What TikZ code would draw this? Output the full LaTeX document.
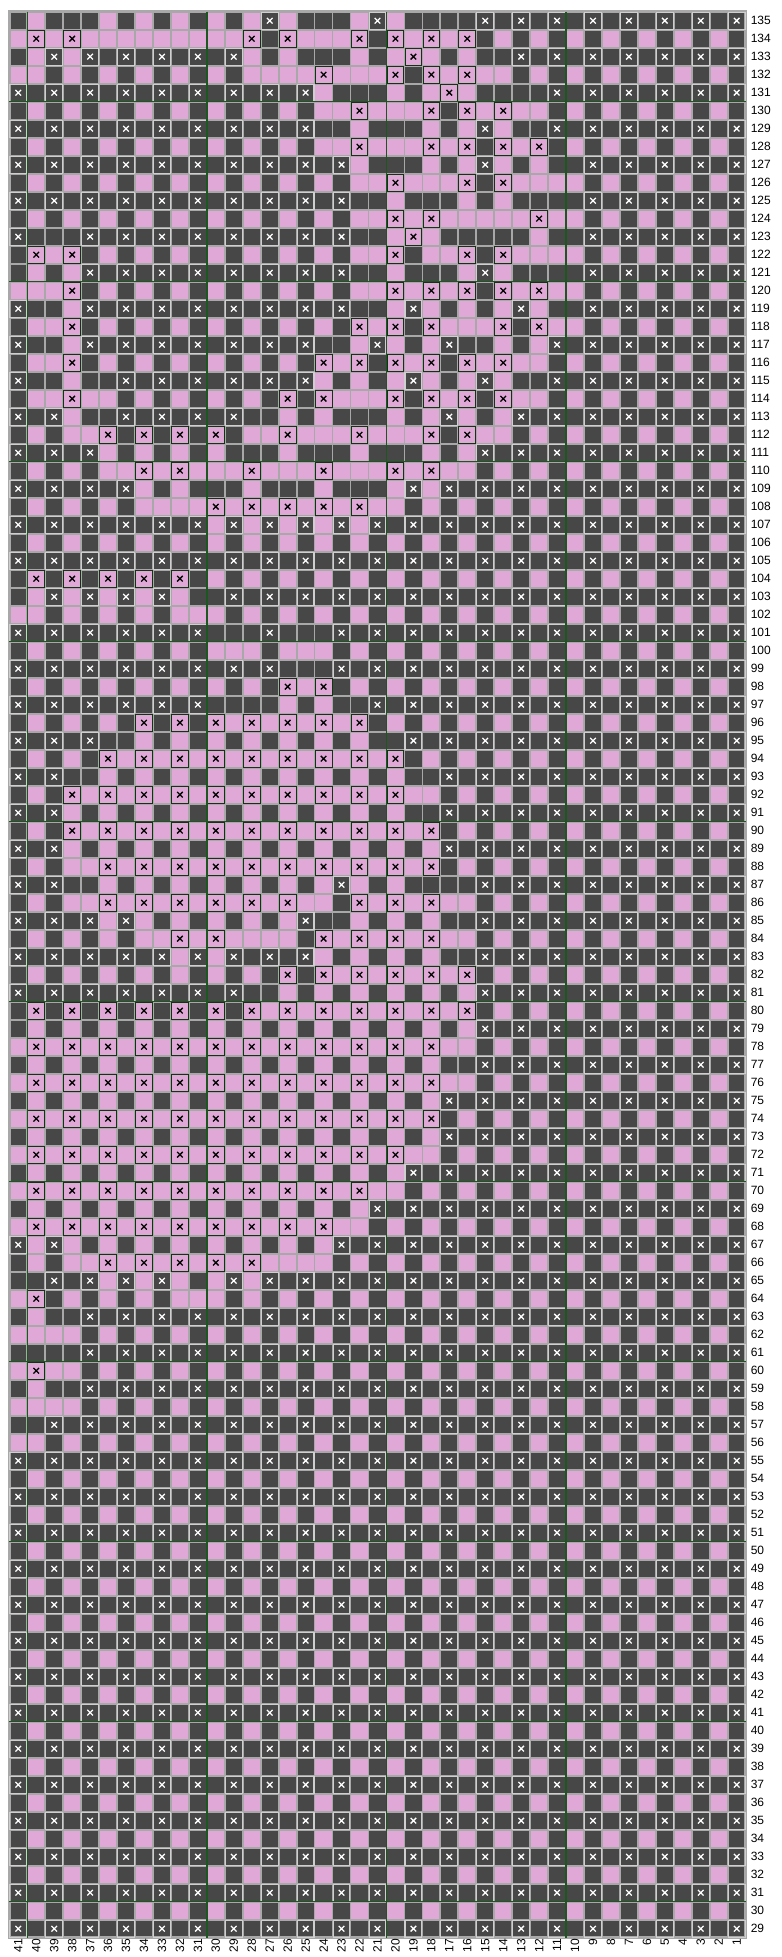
\documentclass[tikz,border=0pt]{standalone}
\usepackage{fontspec}
\setmainfont{Liberation Sans}
\definecolor{yarnpink}{HTML}{DFA8D6}
\definecolor{yarndark}{HTML}{474747}
\definecolor{gridgray}{HTML}{A8A8A8}
\definecolor{guidegreen}{HTML}{1D5720}
\tikzset{
  pinkcell/.style={fill=yarnpink},
  darkcell/.style={fill=yarndark},
  pinkmark/.style={draw=black, line width=0.95pt},
  darkmark/.style={draw=white, line width=0.95pt},
  pinkrim/.style={draw=guidegreen!60!black, line width=0.7pt},
  darkrim/.style={draw=gridgray!55!white, line width=0.8pt},
  gridline/.style={draw=gridgray, line width=1.3pt},
  frameline/.style={draw=gridgray, line width=2pt},
  guideline/.style={draw=guidegreen, line width=1pt},
  rowlabel/.style={anchor=west, inner sep=0pt, font=\fontsize{9}{10}\selectfont},
  collabel/.style={anchor=east, rotate=90, inner sep=0pt, font=\fontsize{9}{10}\selectfont},
}
\newcommand\cellw{17.96}
\newcommand\cellh{18}
\newcommand\gridx{9.3}
\newcommand\gridy{11.7}
\newcommand\oddbg{x dxdxdxdxdx dxdxdxdxdx dxdxdxdxdx dxdxdxdxdx}
\newcommand\evenbg{d pdpdpdpdpd pdpdpdpdpd pdpdpdpdpd pdpdpdpdpd}

\newcommand\cellspot{%
  \pgfmathsetmacro\cellx{\gridx+(41-\colno)*\cellw}%
  \pgfmathsetmacro\celly{\gridy+(135-\rowno)*\cellh}}

\newcommand\fillcell[1]{%
  \if#1p\cellspot\fill[pinkcell] (\cellx,\celly) rectangle ++(\cellw,\cellh);\fi
  \if#1X\cellspot\fill[pinkcell] (\cellx,\celly) rectangle ++(\cellw,\cellh);\fi}

\newcommand\stitchmark[2]{%
  \cellspot
  \pgfmathsetmacro\markx{\cellx+\cellw/2}%
  \pgfmathsetmacro\marky{\celly+\cellh/2}%
  \draw[#2] (\cellx+0.6,\celly+0.6) rectangle (\cellx+\cellw-0.6,\celly+\cellh-0.6);
  \draw[#1] (\markx-2.8,\marky-2.8) -- (\markx+2.8,\marky+2.8)
            (\markx-2.8,\marky+2.8) -- (\markx+2.8,\marky-2.8);}

\newcommand\markcell[1]{%
  \if#1X\stitchmark{pinkmark}{pinkrim}\fi
  \if#1x\stitchmark{darkmark}{darkrim}\fi}

\newcommand\chartrow[2]{%
  \def\rowno{#1}\def\colno{41}%
  \edef\rowcells{#2}%
  \expandafter\readcell\rowcells\relax}
\def\readcell#1{%
  \ifx#1\relax
    \ifnum\colno=0 \else\errmessage{chart row \rowno\space has wrong length}\fi
  \else
    \placecell{#1}%
    \pgfmathtruncatemacro\colno{\colno-1}%
    \expandafter\readcell
  \fi}

% columns 41 | 40-31 | 30-21 | 20-11 | 10-1
\newcommand\chartdata{%
  \chartrow{135}{d pdddpdpdpd pdpxpdddpx pddddxdxdx dxdxdxdxdx}
  \chartrow{134}{p XpXppppppp ppXdXpppXd XpXpXdpdpd pdpdpdpdpd}
  \chartrow{133}{d pxpxdxdxdx dxpdpdddpd pXpdpddxdx dxdxdxdxdx}
  \chartrow{132}{p pdpdpdpdpd pdppppXppp XdXpXppdpd pdpdpdpdpd}
  \chartrow{131}{x dxdxdxdxdx dxdxdxpddd pdpXpddddx dxdxdxdxdx}
  \chartrow{130}{d pdpdpdpdpd pdpdpdppXp ppXdXpXppd pdpdpdpdpd}
  \chartrow{129}{x dxdxdxdxdx dxdxdxddpd ddpdpxpddx dxdxdxdxdx}
  \chartrow{128}{d pdpdpdpdpd pdpdpdppXp ppXpXdXpXd pdpdpdpdpd}
  \chartrow{127}{x dxdxdxdxdx dxdxdxdxpd ddpdpxpdpd dxdxdxdxdx}
  \chartrow{126}{d pdpdpdpdpd pdpdpdpdpp XpppXdXppp pdpdpdpdpd}
  \chartrow{125}{x dxdxdxdxdx dxdxdxdxdd pdddpdpddd dxdxdxdxdx}
  \chartrow{124}{d pdpdpdpdpd pdpdpdpdpp XpXpppppXp pdpdpdpdpd}
  \chartrow{123}{x dddxdxdxdx dxdxdxdxdd pXpdddddpd dxdxdxdxdx}
  \chartrow{122}{d XpXdpdpdpd pdpdpdpdpp XdppXdXppp pdpdpdpdpd}
  \chartrow{121}{d pdpxdxdxdx dxdxdxdxdd pdddpxpddd dxdxdxdxdx}
  \chartrow{120}{p ppXdpdpdpd pdpdpdpdpp XpXpXdXpXp pdpdpdpdpd}
  \chartrow{119}{x ddpxdxdxdx dxdxdxdxdd pxpdpdpxpd dxdxdxdxdx}
  \chartrow{118}{d ppXdpdpdpd pdpdpdpdXp XdXpppXdXp pdpdpdpdpd}
  \chartrow{117}{x ddpxdxdxdx dxdxdxddpx pdpxddpdpx dxdxdxdxdx}
  \chartrow{116}{d ppXdpdpdpd pdpdpdXpXd XpXdXpXppd pdpdpdpdpd}
  \chartrow{115}{x ddpddxdxdx dxdxdxpdpd pxpdpxpddx dxdxdxdxdx}
  \chartrow{114}{d ppXppdpdpd pdpdXdXppp XdXpXdXppd pdpdpdpdpd}
  \chartrow{113}{x dxpddxdxdx dxddpdpddd pdpxpdpxdx dxdxdxdxdx}
  \chartrow{112}{d pdppXdXdXd XdppXpppXp ppXdXppdpd pdpdpdpdpd}
  \chartrow{111}{x dxdxpdpdpd pdddpdddpd ddpdpxdxdx dxdxdxdxdx}
  \chartrow{110}{d pdpdppXpXp ppXpppXppp XpXppdpdpd pdpdpdpdpd}
  \chartrow{109}{x dxdxdxpdpd ddpdddpddd pxpxdxdxdx dxdxdxdxdx}
  \chartrow{108}{d pdpdpdpppp XpXpXpXpXp pdpdpdpdpd pdpdpdpdpd}
  \chartrow{107}{x dxdxdxdxdx pxpxpxpxpx dxdxdxdxdx dxdxdxdxdx}
  \chartrow{106}{\evenbg}
  \chartrow{105}{\oddbg}
  \chartrow{104}{d XdXdXdXdXd pdpdpdpdpd pdpdpdpdpd pdpdpdpdpd}
  \chartrow{103}{d pxpxpxpxpd dxdxdxdxdx dxdxdxdxdx dxdxdxdxdx}
  \chartrow{102}{p pdpdpdpdpp pdpdpdpdpd pdpdpdpdpd pdpdpdpdpd}
  \chartrow{101}{x dxdxdxdxdx dddxdddxdx dxdxdxdxdx dxdxdxdxdx}
  \chartrow{100}{d pdpdpdpdpd pppdpppdpd pdpdpdpdpd pdpdpdpdpd}
  \chartrow{99}{x dxdxdxdxdx dxdxdddxdx dxdxdxdxdx dxdxdxdxdx}
  \chartrow{98}{d pdpdpdpdpd pdpdXpXdpd pdpdpdpdpd pdpdpdpdpd}
  \chartrow{97}{x dxdxdxdxdx ddddpdpddx dxdxdxdxdx dxdxdxdxdx}
  \chartrow{96}{d pdpdpdXdXd XpXpXpXpXd pdpdpdpdpd pdpdpdpdpd}
  \chartrow{95}{x dxdxddpdpd pdpdpdpdpd dxdxdxdxdx dxdxdxdxdx}
  \chartrow{94}{d pdpdXpXpXp XpXpXpXpXp Xdpdpdpdpd pdpdpdpdpd}
  \chartrow{93}{x dxddpdpdpd pdpdpdpdpd pddxdxdxdx dxdxdxdxdx}
  \chartrow{92}{d pdXpXpXpXp XpXpXpXpXp Xppdpdpdpd pdpdpdpdpd}
  \chartrow{91}{x dxpdpdpdpd pdpdpdpdpd pddxdxdxdx dxdxdxdxdx}
  \chartrow{90}{d pdXpXpXpXp XpXpXpXpXp XpXdpdpdpd pdpdpdpdpd}
  \chartrow{89}{x dxpdpdpdpd pdpdpdpdpd pdpxdxdxdx dxdxdxdxdx}
  \chartrow{88}{d pdppXpXpXp XpXpXpXpXp XpXdpdpdpd pdpdpdpdpd}
  \chartrow{87}{x dxddpdpdpd pdpdpdpxpd pddddxdxdx dxdxdxdxdx}
  \chartrow{86}{d pdppXpXpXp XpXpXppdXp XpXppdpdpd pdpdpdpdpd}
  \chartrow{85}{x dxdxpxpdpd pdpdpxddpd pdpddxdxdx dxdxdxdxdx}
  \chartrow{84}{d pdpdpdppXp XppppdXpXp XpXppdpdpd pdpdpdpdpd}
  \chartrow{83}{x dxdxdxdxpx pxdxdxpdpd pdpddxdxdx dxdxdxdxdx}
  \chartrow{82}{d pdpdpdpdpd pdpdXdXpXp XpXpXdpdpd pdpdpdpdpd}
  \chartrow{81}{x dxdxdxdxdx dxddpdpdpd pdpdpxdxdx dxdxdxdxdx}
  \chartrow{80}{d XdXdXdXdXd XdXpXpXpXp XpXpXdpdpd pdpdpdpdpd}
  \chartrow{79}{d pdpdpdpdpd pdpdpdpdpd pdpdpxdxdx dxdxdxdxdx}
  \chartrow{78}{p XpXpXpXpXp XpXpXpXpXp XpXppdpdpd pdpdpdpdpd}
  \chartrow{77}{d pdpdpdpdpd pdpdpdpdpd pdpddxdxdx dxdxdxdxdx}
  \chartrow{76}{p XpXpXpXpXp XpXpXpXpXp XpXppdpdpd pdpdpdpdpd}
  \chartrow{75}{d pdpdpdpdpd pdpdpdpdpd pdpxdxdxdx dxdxdxdxdx}
  \chartrow{74}{p XpXpXpXpXp XpXpXpXpXp XpXdpdpdpd pdpdpdpdpd}
  \chartrow{73}{d pdpdpdpdpd pdpdpdpdpd pdpxdxdxdx dxdxdxdxdx}
  \chartrow{72}{p XpXpXpXpXp XpXpXpXpXp Xppdpdpdpd pdpdpdpdpd}
  \chartrow{71}{d pdpdpdpdpd pdpdpdpdpd pxdxdxdxdx dxdxdxdxdx}
  \chartrow{70}{p XpXpXpXpXp XpXpXpXpXp pdpdpdpdpd pdpdpdpdpd}
  \chartrow{69}{d pdpdpdpdpd pdpdpdpdpx dxdxdxdxdx dxdxdxdxdx}
  \chartrow{68}{p XpXpXpXpXp XpXpXpXppd pdpdpdpdpd pdpdpdpdpd}
  \chartrow{67}{x pxpdpdpdpd pdpdpdpxdx dxdxdxdxdx dxdxdxdxdx}
  \chartrow{66}{d pdppXpXpXp XpXppppdpd pdpdpdpdpd pdpdpdpdpd}
  \chartrow{65}{d dxdxpxpxpd pxpxdxdxdx dxdxdxdxdx dxdxdxdxdx}
  \chartrow{64}{p Xdpdpdpdpp pdpdpdpdpd pdpdpdpdpd pdpdpdpdpd}
  \chartrow{63}{d pddxdxdxdx dxdxdxdxdx dxdxdxdxdx dxdxdxdxdx}
  \chartrow{62}{p pppdpdpdpd pdpdpdpdpd pdpdpdpdpd pdpdpdpdpd}
  \chartrow{61}{d dddxdxdxdx dxdxdxdxdx dxdxdxdxdx dxdxdxdxdx}
  \chartrow{60}{p Xppdpdpdpd pdpdpdpdpd pdpdpdpdpd pdpdpdpdpd}
  \chartrow{59}{d pddxdxdxdx dxdxdxdxdx dxdxdxdxdx dxdxdxdxdx}
  \chartrow{58}{p pppdpdpdpd pdpdpdpdpd pdpdpdpdpd pdpdpdpdpd}
  \chartrow{57}{d dxdxdxdxdx dxdxdxdxdx dxdxdxdxdx dxdxdxdxdx}
  \chartrow{56}{p pdpdpdpdpd pdpdpdpdpd pdpdpdpdpd pdpdpdpdpd}
  \foreach \r in {29,...,55}{\ifodd\r\relax\chartrow{\r}{\oddbg}\else\chartrow{\r}{\evenbg}\fi}}

\begin{document}
\begin{tikzpicture}[x=0.75pt, y=-0.75pt]
  \useasboundingbox (0,0) rectangle (782,1957);
  \fill[white] (0,0) rectangle (782,1957);
  \fill[darkcell] (\gridx,\gridy) rectangle ({\gridx+41*\cellw},{\gridy+107*\cellh});

  \let\placecell\fillcell
  \chartdata

  \foreach \k in {0,...,41}
    \draw[gridline] ({\gridx+\k*\cellw},\gridy) -- ({\gridx+\k*\cellw},{\gridy+107*\cellh});
  \foreach \k in {0,...,107}
    \draw[gridline] (\gridx,{\gridy+\k*\cellh}) -- ({\gridx+41*\cellw},{\gridy+\k*\cellh});
  \draw[frameline] (\gridx,\gridy) rectangle ({\gridx+41*\cellw},{\gridy+107*\cellh});

  \let\placecell\markcell
  \chartdata

  \foreach \k in {1,11,21,31}
    \draw[guideline] ({\gridx+\k*\cellw},\gridy) -- ({\gridx+\k*\cellw},{\gridy+107*\cellh});
  \foreach \r in {30,40,...,130}
    \draw[guideline] (\gridx,{\gridy+(135-\r)*\cellh}) -- ({\gridx+41*\cellw},{\gridy+(135-\r)*\cellh});

  \foreach \r in {29,...,135}
    \node[rowlabel] (row\r) at (750.5,{\gridy+(135-\r)*\cellh+\cellh/2}) {\r};
  \foreach \c in {1,...,41}
    \node[collabel] (col\c) at ({\gridx+(41-\c)*\cellw+\cellw/2},1939) {\c};
\end{tikzpicture}
\end{document}
